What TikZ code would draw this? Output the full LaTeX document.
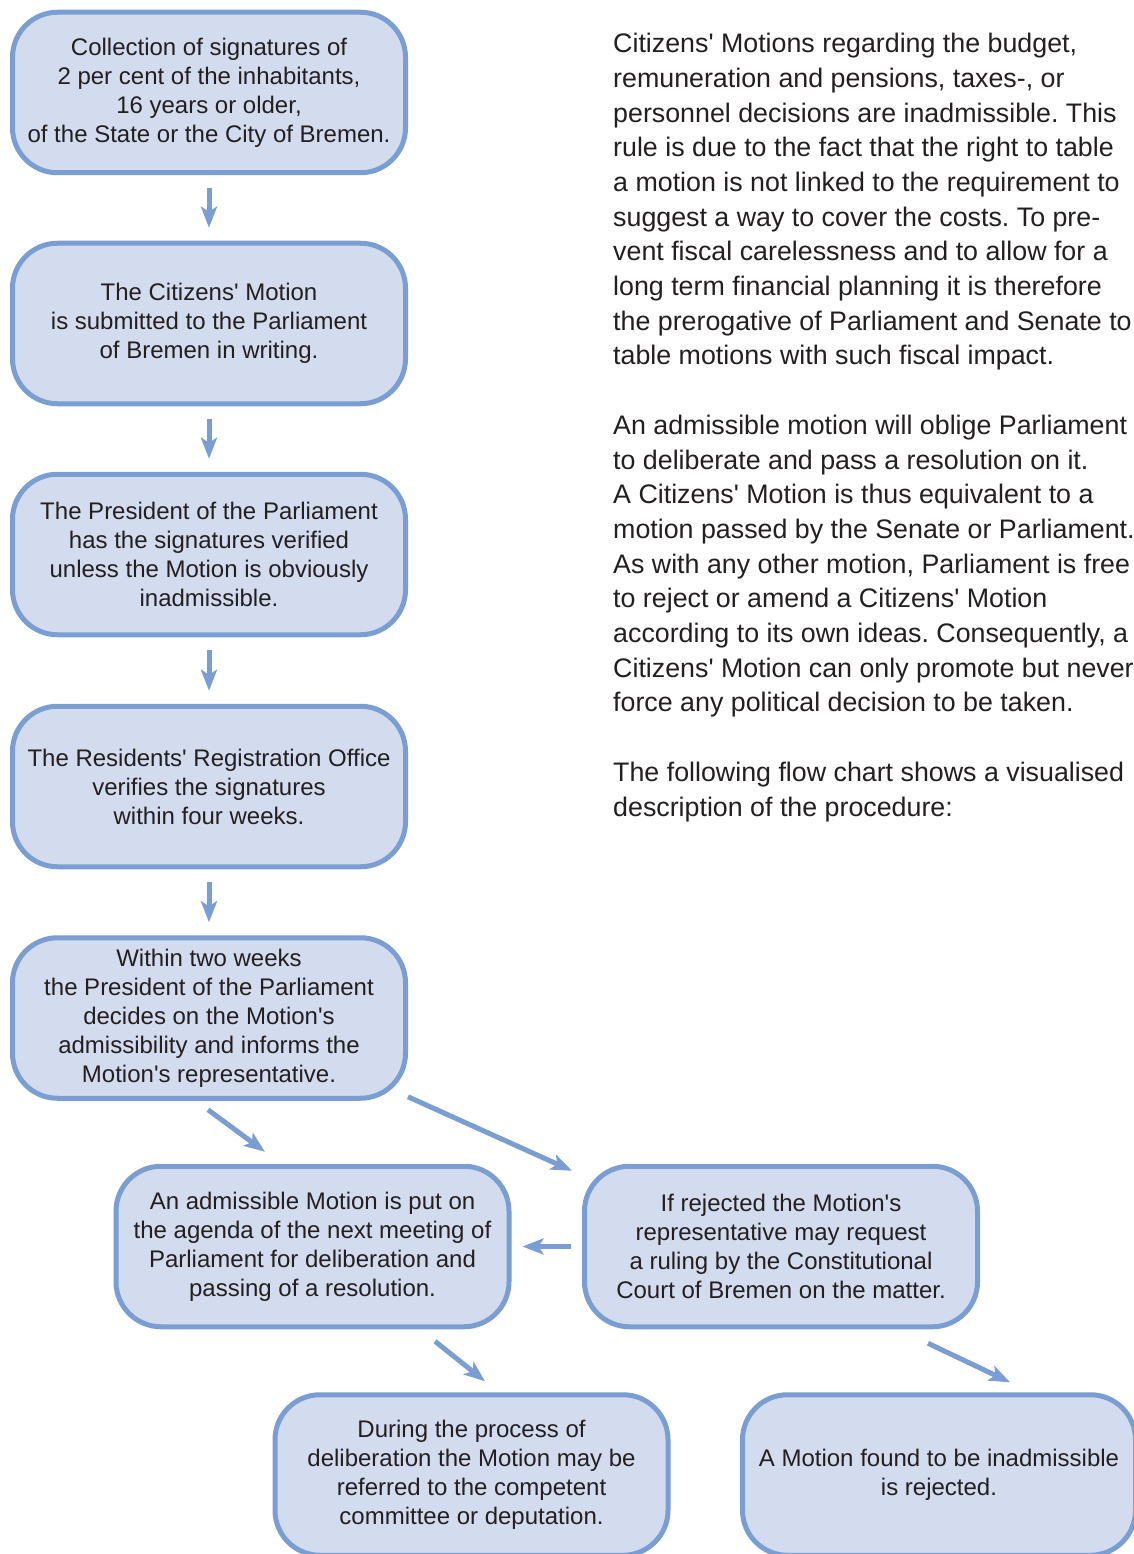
\documentclass[tikz,border=0pt]{standalone}
\usepackage{fontspec}
\setmainfont{Liberation Sans}
\usetikzlibrary{arrows.meta,calc}
\definecolor{edgeblue}{RGB}{123,158,210}
\definecolor{boxfill}{RGB}{211,220,238}
\definecolor{ink}{RGB}{35,31,32}
\newcommand{\q}{\textquotesingle}
\begin{document}
\frenchspacing
\begin{tikzpicture}[x=1pt,y=-1pt,
  flowbox/.style={draw=edgeblue, fill=boxfill, line width=5pt, rounded corners=45pt,
    minimum width=393pt, minimum height=160.5pt, align=center, text=ink,
    font=\fontsize{24}{29}\selectfont, inner sep=0pt},
  flowarrow/.style={draw=edgeblue, line width=5pt, -{Stealth[length=21pt,width=16pt,inset=5pt]}},
  desctext/.style={anchor=north west, align=left, inner sep=0pt, text=ink,
    font=\fontsize{26.8}{34.7}\selectfont}]
\useasboundingbox (0,0) rectangle (1134,1554);
\fill[white] (0,0) rectangle (1134,1554);

\node[flowbox] (b1) at (209,92.5) {Collection of signatures of\\2 per cent of the inhabitants,\\16 years or older,\\of the State or the City of Bremen.};
\node[flowbox] (b2) at (209,323.5) {The Citizens\q{} Motion\\is submitted to the Parliament\\of Bremen in writing.};
\node[flowbox] (b3) at (209,554.5) {The President of the Parliament\\has the signatures verified\\unless the Motion is obviously\\inadmissible.};
\node[flowbox] (b4) at (209,786.5) {The Residents\q{} Registration Office\\verifies the signatures\\within four weeks.};
\node[flowbox] (b5) at (209,1018) {Within two weeks\\the President of the Parliament\\decides on the Motion\q{}s\\admissibility and informs the\\Motion\q{}s representative.};
\node[flowbox] (b6) at (312.5,1246.5) {An admissible Motion is put on\\the agenda of the next meeting of\\Parliament for deliberation and\\passing of a resolution.};
\node[flowbox] (b7) at (781,1246.5) {If rejected the Motion\q{}s\\representative may request\\a ruling by the Constitutional\\Court of Bremen on the matter.};
\node[flowbox] (b8) at (471.5,1475) {During the process of\\deliberation the Motion may be\\referred to the competent\\committee or deputation.};
\node[flowbox] (b9) at (939,1475) {A Motion found to be inadmissible\\is rejected.};

\node[desctext] (desc) at (613,33) {Citizens\q{} Motions regarding the budget,\\
remuneration and pensions, taxes-, or\\
personnel decisions are inadmissible. This\\
rule is due to the fact that the right to table\\
a motion is not linked to the requirement to\\
suggest a way to cover the costs. To pre-\\
vent fiscal carelessness and to allow for a\\
long term financial planning it is therefore\\
the prerogative of Parliament and Senate to\\
table motions with such fiscal impact.\\
\mbox{}\\
An admissible motion will oblige Parliament\\
to deliberate and pass a resolution on it.\\
A Citizens\q{} Motion is thus equivalent to a\\
motion passed by the Senate or Parliament.\\
As with any other motion, Parliament is free\\
to reject or amend a Citizens\q{} Motion\\
according to its own ideas. Consequently, a\\
Citizens\q{} Motion can only promote but never\\
force any political decision to be taken.\\
\mbox{}\\
The following flow chart shows a visualised\\
description of the procedure:};

\draw[flowarrow, shorten <=13pt, shorten >=13pt] (b1) -- (b2);
\draw[flowarrow, shorten <=13pt, shorten >=13pt] (b2) -- (b3);
\draw[flowarrow, shorten <=13pt, shorten >=13pt] (b3) -- (b4);
\draw[flowarrow, shorten <=13pt, shorten >=13pt] (b4) -- (b5);

\coordinate (a56s) at ($(b5.south)+(-1,9)$);
\coordinate (a56e) at ($(b6.north)+(-47.5,-12)$);
\draw[flowarrow] (a56s) -- (a56e);

\coordinate (a57s) at ($(b5.south east)+(0,-4)$);
\coordinate (a57e) at ($(b7.north west)+(-10,7)$);
\draw[flowarrow] (a57s) -- (a57e);

\draw[flowarrow, shorten <=11pt, shorten >=11pt] (b7) -- (b6);

\coordinate (a68s) at ($(b6.south)+(122.5,12)$);
\coordinate (a68e) at ($(b8.north)+(13.5,-11)$);
\draw[flowarrow] (a68s) -- (a68e);

\coordinate (a79s) at ($(b7.south)+(147,14)$);
\coordinate (a79e) at ($(b9.north)+(71,-10)$);
\draw[flowarrow] (a79s) -- (a79e);
\end{tikzpicture}
\end{document}
